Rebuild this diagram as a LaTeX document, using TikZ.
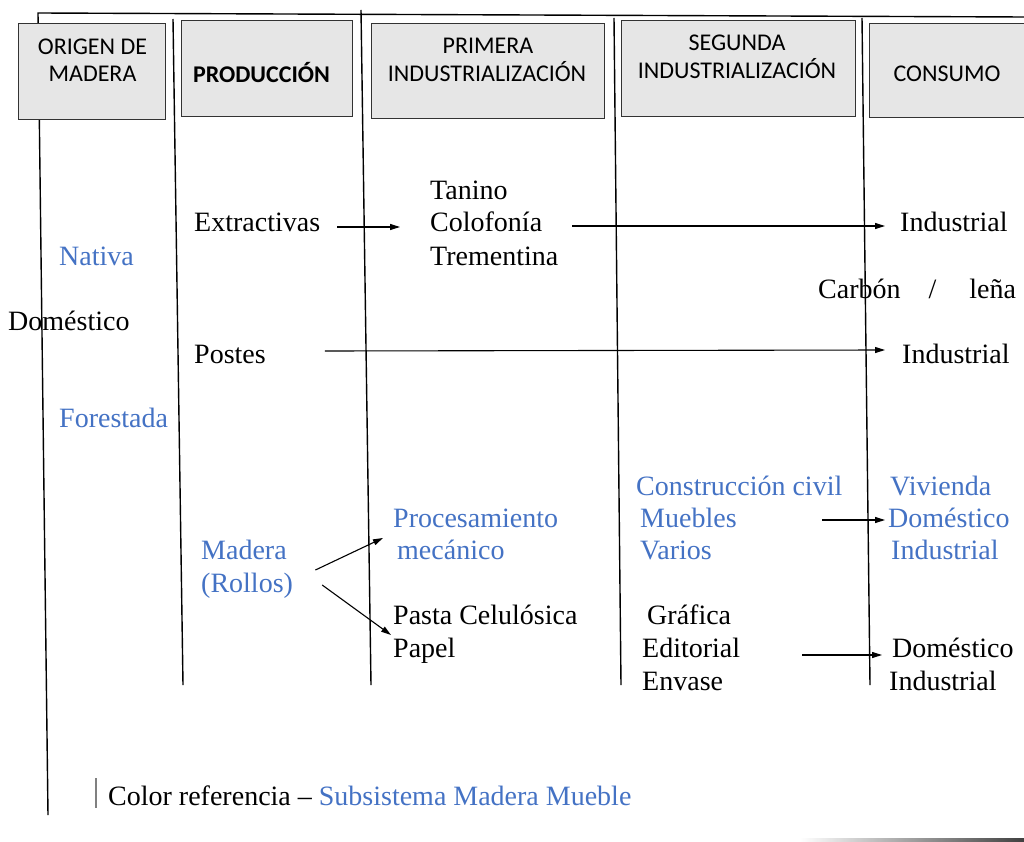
\documentclass[tikz,border=0pt]{standalone}
\usepackage{fontspec}
\setmainfont{Liberation Serif}
\newfontfamily\hdrfont{Carlito}
\usetikzlibrary{arrows.meta,calc}
\definecolor{refblue}{HTML}{4472C4}
\definecolor{boxfill}{HTML}{E6E6E6}
\definecolor{boxline}{HTML}{333333}
\begin{document}
\begin{tikzpicture}[x=1pt,y=-1pt,
  col/.style={line width=1.4pt, black},
  hbox/.style={draw=boxline, line width=1.4pt, fill=boxfill, anchor=north west, inner sep=0pt},
  htxt/.style={font=\hdrfont\fontsize{24}{28}\selectfont, anchor=base, inner sep=0pt},
  txt/.style={font=\fontsize{28}{33}\selectfont, anchor=base west, inner sep=0pt, text height=19pt, text depth=6pt},
  btxt/.style={txt, text=refblue},
  arr/.style={-{Triangle[length=10pt,width=6pt]}, line width=1.1pt},
]
\path[use as bounding box] (0,0) rectangle (1024,842);

% column lines
\draw[col] (48,815) -- (38,13) -- (1024,17);
\draw[col] (173,19) -- (183,685);
\draw[col] (361,10) -- (371,685);
\draw[col] (614,18) -- (621,685);
\draw[col] (862,18) -- (870,685);
\shade[left color=white, right color=black!75] (800,838) rectangle (1024,842);

% header boxes
\node[hbox, minimum width=147pt, minimum height=96pt] (b1) at (18,23) {};
\node[hbox, minimum width=171pt, minimum height=96pt] (b2) at (181,20) {};
\node[hbox, minimum width=233pt, minimum height=95pt] (b3) at (371,23) {};
\node[hbox, minimum width=234pt, minimum height=96pt] (b4) at (621,20) {};
\node[hbox, minimum width=170pt, minimum height=94pt] (b5) at (869,23) {};

\node[htxt] (h1a) at (92.5,55) {ORIGEN DE};
\node[htxt] (h1b) at (92.5,82) {MADERA};
\node[htxt] (h2) at (261.5,83) {\bfseries PRODUCCIÓN};
\node[htxt] (h3a) at (488,54) {PRIMERA};
\node[htxt] (h3b) at (487,82) {INDUSTRIALIZACIÓN};
\node[htxt] (h4a) at (737,51) {SEGUNDA};
\node[htxt] (h4b) at (737,79) {INDUSTRIALIZACIÓN};
\node[htxt] (h5) at (947,82) {CONSUMO};

% texts
\node[txt] (tan) at (430,200) {Tanino};
\node[txt] (colo) at (430,232) {Colofonía};
\node[txt] (tre) at (430,265) {Trementina};
\node[txt] (ext) at (194,232) {Extractivas};
\node[txt] (ind1) at (900,232) {Industrial};
\node[btxt] (nat) at (59,265) {Nativa};
\node[txt] (carb) at (818,298) {Carbón\hspace{28pt}/\hspace{33pt}leña};
\node[txt] (dom1) at (8,330) {Doméstico};
\node[txt] (pos) at (194,363) {Postes};
\node[txt] (ind2) at (902,363) {Industrial};
\node[btxt] (fore) at (59,427) {Forestada};
\node[btxt] (cc) at (636,495) {Construcción civil};
\node[btxt] (viv) at (890,495) {Vivienda};
\node[btxt] (proc) at (393,527) {Procesamiento};
\node[btxt] (mue) at (640,527) {Muebles};
\node[btxt] (dom2) at (888,527) {Doméstico};
\node[btxt] (mad) at (201,559) {Madera};
\node[btxt] (mec) at (397,559) {mecánico};
\node[btxt] (var) at (640,559) {Varios};
\node[btxt] (ind3) at (891,559) {Industrial};
\node[btxt] (rol) at (201,592) {(Rollos)};
\node[txt] (pasta) at (393,624) {Pasta Celulósica};
\node[txt] (gra) at (647,624) {Gráfica};
\node[txt] (pap) at (393,657) {Papel};
\node[txt] (edi) at (642,657) {Editorial};
\node[txt] (dom3) at (892,657) {Doméstico};
\node[txt] (env) at (642,690) {Envase};
\node[txt] (ind4) at (889,690) {Industrial};

% legend
\draw[gray, line width=1.8pt] (96,778) -- (96,808);
\node[txt] (leg) at (108,805) {Color referencia – \textcolor{refblue}{Subsistema Madera Mueble}};

% arrows
\draw[arr] ([shift={(17,1.5)}]ext.east) -- ([shift={(-30,1.5)}]colo.west);
\draw[arr] ([shift={(30,0.5)}]colo.east) -- ([shift={(-15,0.5)}]ind1.west);
\draw[arr] ([shift={(59,-5.5)}]pos.east) -- ([shift={(-17,-6.5)}]ind2.west);
\draw[arr] ([shift={(28.5,17.5)}]mad.east) -- ([shift={(-10,17.5)}]proc.west);
\draw[arr] ([shift={(29,-0.5)}]rol.east) -- ([shift={(-2,17.5)}]pasta.west);
\draw[arr] ([shift={(85.6,-0.5)}]mue.east) -- ([shift={(-3,-0.5)}]dom2.west);
\draw[arr] ([shift={(62,4.5)}]edi.east) -- ([shift={(-10,4.5)}]dom3.west);
\end{tikzpicture}
\end{document}
